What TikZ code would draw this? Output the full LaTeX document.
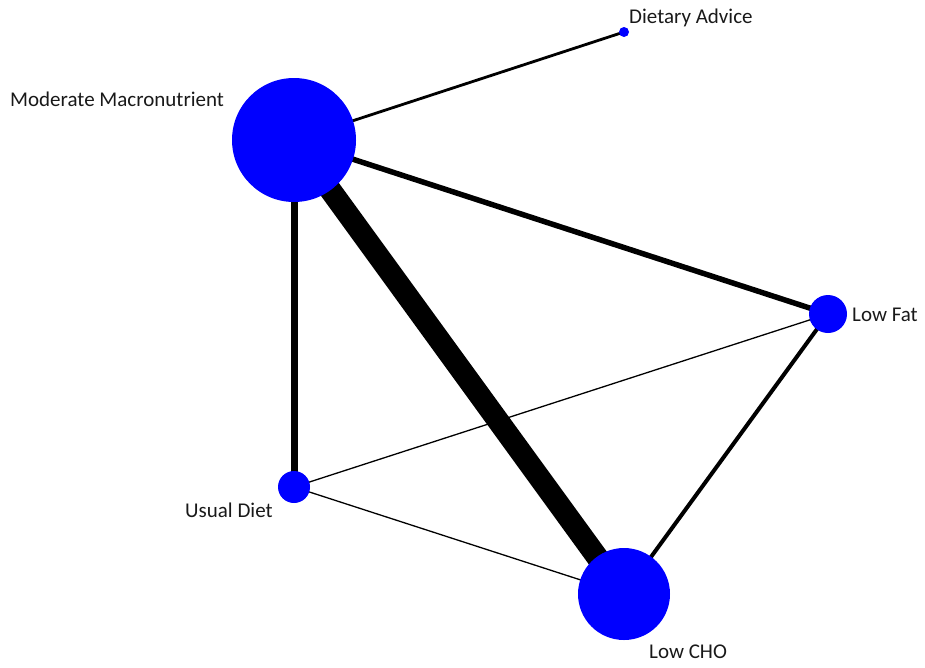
\documentclass[tikz,border=0pt]{standalone}
\usepackage{fontspec}
\setmainfont{Carlito}
\begin{document}
\begin{tikzpicture}[x=1pt,y=-1pt,
  trt/.style={circle,draw=none,inner sep=0pt},
  lbl/.style={anchor=base west,inner sep=0pt,font=\fontsize{21}{24}\selectfont,text=black!90},
  edge/.style={draw=black,line cap=butt}]
\useasboundingbox (0,0) rectangle (925,667);
\node[trt,minimum size=124pt] (mm) at (294,140) {};
\node[trt,minimum size=10pt] (da) at (624,32) {};
\node[trt,minimum size=38pt] (lf) at (828,314) {};
\node[trt,minimum size=32pt] (ud) at (294,487) {};
\node[trt,minimum size=92pt] (lc) at (624,594) {};
\draw[edge,line width=2.8pt] (mm.center) -- (da.center);
\draw[edge,line width=5.5pt] (mm.center) -- (lf.center);
\draw[edge,line width=7pt] (mm.center) -- (ud.center);
\draw[edge,line width=22pt] (mm.center) -- (lc.center);
\draw[edge,line width=1.3pt] (ud.center) -- (lf.center);
\draw[edge,line width=1.3pt] (ud.center) -- (lc.center);
\draw[edge,line width=4pt] (lf.center) -- (lc.center);
\fill[blue] (mm.center) circle (62);
\fill[blue] (da.center) circle (5);
\fill[blue] (lf.center) circle (19);
\fill[blue] (ud.center) circle (16);
\fill[blue] (lc.center) circle (46);
\node[lbl] (tda) at (629,23) {Dietary Advice};
\node[lbl] (tmm) at (10,106) {Moderate Macronutrient};
\node[lbl] (tlf) at (852,321) {Low Fat};
\node[lbl] (tud) at (185,517) {Usual Diet};
\node[lbl] (tlc) at (649,658) {Low CHO};
\end{tikzpicture}
\end{document}
